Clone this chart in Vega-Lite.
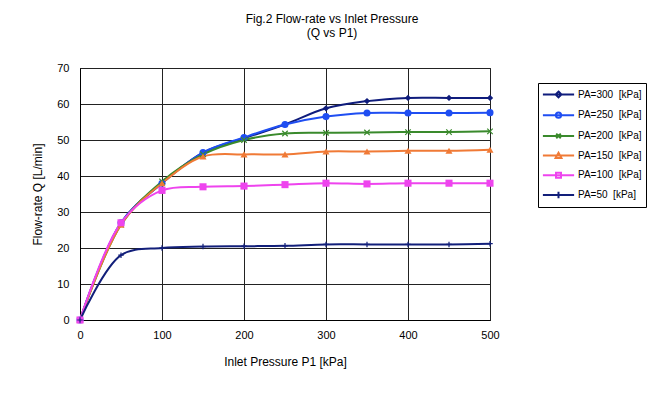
{
  "$schema": "https://vega.github.io/schema/vega-lite/v6.json",
  "autosize": {"type": "none"},
  "width": 410,
  "height": 252,
  "padding": {"left": 80, "top": 68, "right": 168, "bottom": 75},
  "background": "white",
  "config": {
    "font": "Liberation Sans",
    "view": {"stroke": "#222", "strokeWidth": 1}
  },
  "title": {
    "text": ["Fig.2 Flow-rate vs Inlet Pressure", "(Q vs P1)"],
    "fontSize": 12,
    "fontWeight": "normal",
    "color": "#000",
    "anchor": "middle",
    "dx": 47,
    "offset": 22,
    "lineHeight": 14
  },
  "data": {
    "values": [
      {"p": 0, "q": 0, "s": "PA=300"}, {"p": 50, "q": 27, "s": "PA=300"}, {"p": 100, "q": 38, "s": "PA=300"}, {"p": 150, "q": 46.5, "s": "PA=300"}, {"p": 200, "q": 50.5, "s": "PA=300"}, {"p": 250, "q": 54.3, "s": "PA=300"}, {"p": 300, "q": 58.8, "s": "PA=300"}, {"p": 350, "q": 60.8, "s": "PA=300"}, {"p": 400, "q": 61.7, "s": "PA=300"}, {"p": 450, "q": 61.7, "s": "PA=300"}, {"p": 500, "q": 61.7, "s": "PA=300"},
      {"p": 0, "q": 0, "s": "PA=250"}, {"p": 50, "q": 27, "s": "PA=250"}, {"p": 100, "q": 38, "s": "PA=250"}, {"p": 150, "q": 46.5, "s": "PA=250"}, {"p": 200, "q": 50.7, "s": "PA=250"}, {"p": 250, "q": 54.3, "s": "PA=250"}, {"p": 300, "q": 56.5, "s": "PA=250"}, {"p": 350, "q": 57.5, "s": "PA=250"}, {"p": 400, "q": 57.5, "s": "PA=250"}, {"p": 450, "q": 57.5, "s": "PA=250"}, {"p": 500, "q": 57.6, "s": "PA=250"},
      {"p": 0, "q": 0, "s": "PA=200"}, {"p": 50, "q": 26.5, "s": "PA=200"}, {"p": 100, "q": 38.5, "s": "PA=200"}, {"p": 150, "q": 46, "s": "PA=200"}, {"p": 200, "q": 50, "s": "PA=200"}, {"p": 250, "q": 51.8, "s": "PA=200"}, {"p": 300, "q": 52, "s": "PA=200"}, {"p": 350, "q": 52.1, "s": "PA=200"}, {"p": 400, "q": 52.2, "s": "PA=200"}, {"p": 450, "q": 52.2, "s": "PA=200"}, {"p": 500, "q": 52.4, "s": "PA=200"},
      {"p": 0, "q": 0, "s": "PA=150"}, {"p": 50, "q": 26.5, "s": "PA=150"}, {"p": 100, "q": 38, "s": "PA=150"}, {"p": 150, "q": 45.4, "s": "PA=150"}, {"p": 200, "q": 46, "s": "PA=150"}, {"p": 250, "q": 46, "s": "PA=150"}, {"p": 300, "q": 46.8, "s": "PA=150"}, {"p": 350, "q": 46.8, "s": "PA=150"}, {"p": 400, "q": 47, "s": "PA=150"}, {"p": 450, "q": 47, "s": "PA=150"}, {"p": 500, "q": 47.3, "s": "PA=150"},
      {"p": 0, "q": 0, "s": "PA=100"}, {"p": 50, "q": 27, "s": "PA=100"}, {"p": 100, "q": 36, "s": "PA=100"}, {"p": 150, "q": 37, "s": "PA=100"}, {"p": 200, "q": 37.2, "s": "PA=100"}, {"p": 250, "q": 37.6, "s": "PA=100"}, {"p": 300, "q": 38, "s": "PA=100"}, {"p": 350, "q": 37.8, "s": "PA=100"}, {"p": 400, "q": 38, "s": "PA=100"}, {"p": 450, "q": 38, "s": "PA=100"}, {"p": 500, "q": 38, "s": "PA=100"},
      {"p": 0, "q": 0, "s": "PA=50"}, {"p": 50, "q": 18, "s": "PA=50"}, {"p": 100, "q": 20, "s": "PA=50"}, {"p": 150, "q": 20.4, "s": "PA=50"}, {"p": 200, "q": 20.5, "s": "PA=50"}, {"p": 250, "q": 20.6, "s": "PA=50"}, {"p": 300, "q": 21, "s": "PA=50"}, {"p": 350, "q": 21, "s": "PA=50"}, {"p": 400, "q": 21, "s": "PA=50"}, {"p": 450, "q": 21, "s": "PA=50"}, {"p": 500, "q": 21.2, "s": "PA=50"}
    ]
  },
  "encoding": {
    "x": {
      "field": "p", "type": "quantitative",
      "scale": {"domain": [0, 500], "nice": false},
      "axis": {
        "title": "Inlet Pressure P1 [kPa]", "values": [0, 100, 200, 300, 400, 500],
        "grid": true, "gridColor": "#222", "gridOpacity": 1, "gridWidth": 1,
        "domainColor": "#000", "ticks": false, "labelFlush": false,
        "labelFontSize": 11, "labelColor": "#000", "labelPadding": 9,
        "titleFontSize": 12, "titleFontWeight": "normal", "titleColor": "#000", "titlePadding": 16
      }
    },
    "y": {
      "field": "q", "type": "quantitative",
      "scale": {"domain": [0, 70], "nice": false},
      "axis": {
        "title": "Flow-rate Q [L/min]", "values": [0, 10, 20, 30, 40, 50, 60, 70],
        "grid": true, "gridColor": "#222", "gridOpacity": 1, "gridWidth": 1,
        "domainColor": "#000", "ticks": false, "labelFlush": false,
        "labelFontSize": 11, "labelColor": "#000", "labelPadding": 11,
        "titleFontSize": 12, "titleFontWeight": "normal", "titleColor": "#000", "titlePadding": 12
      }
    }
  },
  "layer": [
    {
      "mark": {"type": "line", "interpolate": "catmull-rom", "strokeWidth": 2},
      "encoding": {
        "color": {
          "field": "s", "type": "nominal",
          "scale": {
            "domain": ["PA=300", "PA=250", "PA=200", "PA=150", "PA=100", "PA=50"],
            "range": ["#0f1c7c", "#1f4ef2", "#3a8a2c", "#f07a36", "#ee44ee", "#121f7a"]
          },
          "legend": {
            "orient": "none", "legendX": 458, "legendY": 15,
            "title": null,
            "strokeColor": "#000", "padding": 4,
            "symbolType": "M-2.4,0H2.4",
            "symbolSize": 169, "symbolStrokeWidth": 2,
            "symbolOffset": 9,
            "labelFontSize": 10, "labelColor": "#000",
            "labelExpr": "datum.label + '\u00a0\u00a0[kPa]\u00a0\u00a0\u00a0'",
            "rowPadding": 5.7, "labelOffset": 12,
            "encode": {
              "symbols": {
                "update": {
                  "shape": {"signal": "datum.value == 'PA=300' ? 'M-2.4,0H2.4M0,-0.45L0.45,0L0,0.45L-0.45,0Z' : datum.value == 'PA=250' ? 'M-2.4,0H2.4M0.4,0A0.4,0.4,0,1,1,-0.4,0A0.4,0.4,0,1,1,0.4,0Z' : datum.value == 'PA=200' ? 'M-2.4,0H2.4M-0.35,-0.35L0.35,0.35M-0.35,0.35L0.35,-0.35' : datum.value == 'PA=150' ? 'M-2.4,0H2.4M0,-0.45L0.45,0.35L-0.45,0.35Z' : datum.value == 'PA=100' ? 'M-2.4,0H2.4M-0.38,-0.38H0.38V0.38H-0.38Z' : 'M-2.4,0H2.4M0,-0.5V0.5'"},
                  "fillOpacity": {"value": 1}
                }
              }
            }
          }
        }
      }
    },
    {"transform": [{"filter": {"field": "s", "equal": "PA=300"}}], "mark": {"type": "point", "filled": true, "opacity": 1, "shape": "diamond", "color": "#0f1c7c", "size": 40}},
    {"transform": [{"filter": {"field": "s", "equal": "PA=250"}}], "mark": {"type": "point", "filled": true, "opacity": 1, "shape": "circle", "color": "#1f4ef2", "size": 50}},
    {"transform": [{"filter": {"field": "s", "equal": "PA=200"}}], "mark": {"type": "point", "filled": false, "opacity": 1, "shape": "M-1,-1L1,1M-1,1L1,-1", "color": "#3a8a2c", "strokeWidth": 1.2, "size": 30}},
    {"transform": [{"filter": {"field": "s", "equal": "PA=150"}}], "mark": {"type": "point", "filled": true, "opacity": 1, "shape": "triangle-up", "color": "#f07a36", "size": 50}},
    {"transform": [{"filter": {"field": "s", "equal": "PA=100"}}], "mark": {"type": "point", "filled": true, "opacity": 1, "shape": "square", "color": "#ee44ee", "size": 50}},
    {"transform": [{"filter": {"field": "s", "equal": "PA=50"}}], "mark": {"type": "point", "filled": false, "opacity": 1, "shape": "M-1,0H1M0,-1V1", "color": "#121f7a", "strokeWidth": 1.2, "size": 30}}
  ]
}
